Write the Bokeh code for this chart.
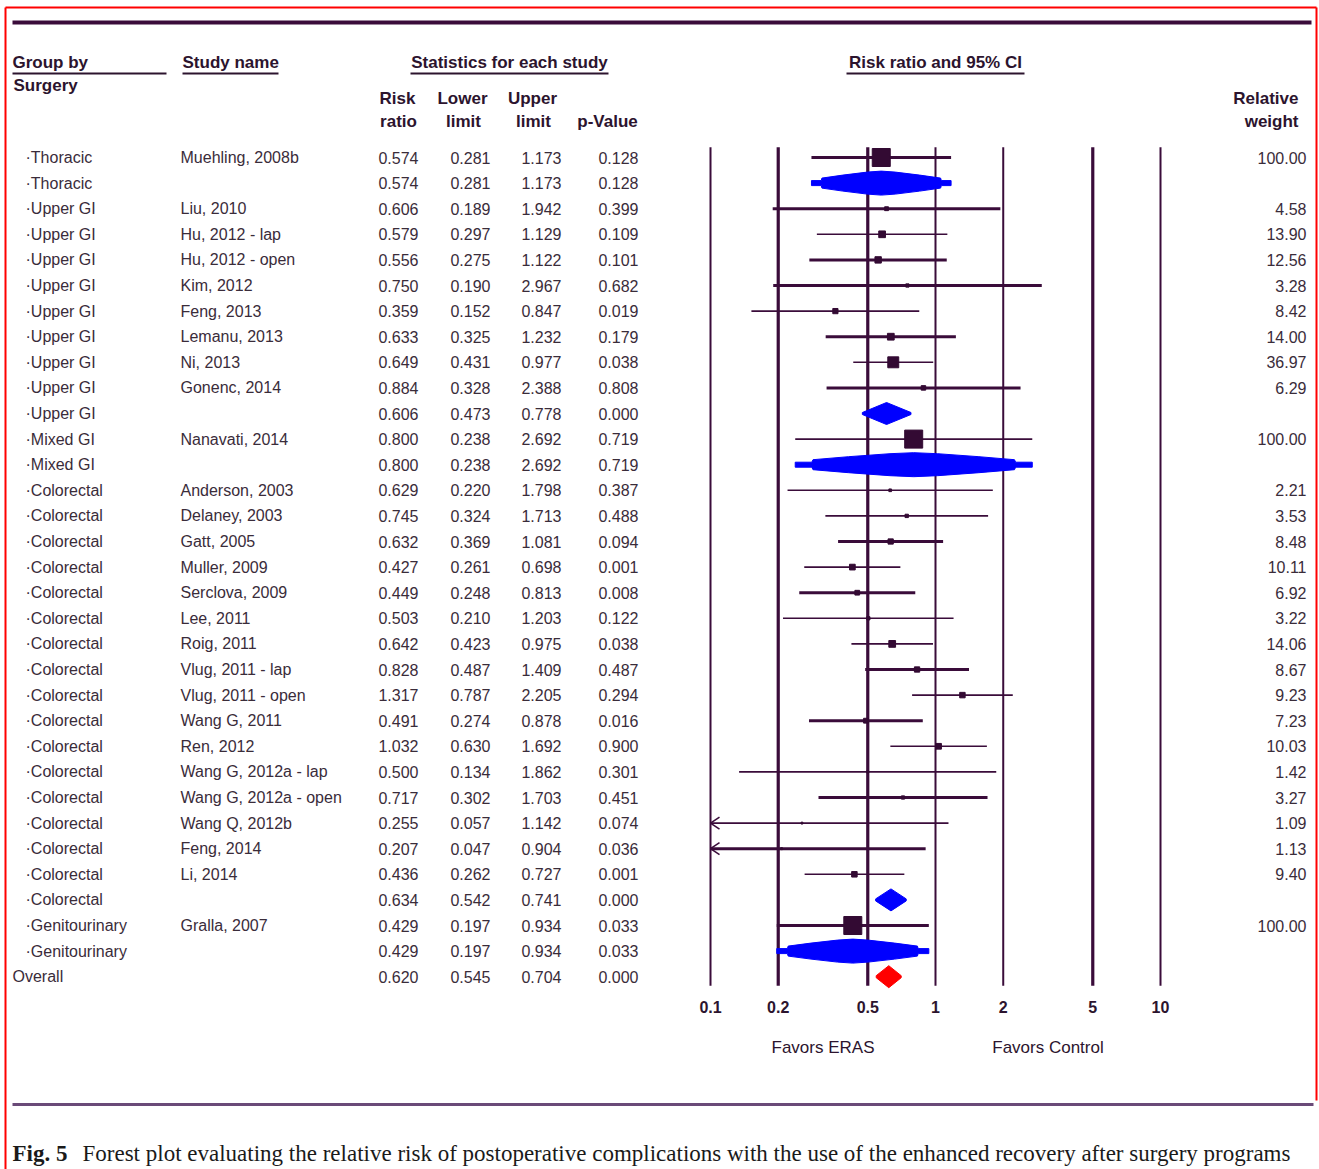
import math
from bokeh.plotting import figure
from bokeh.models import Range1d, LogScale
from bokeh.embed import file_html
from bokeh.resources import INLINE
from bokeh.core.properties import value

# ---------------- data ----------------
groups = ["Thoracic", "Thoracic",
          "Upper GI", "Upper GI", "Upper GI", "Upper GI", "Upper GI", "Upper GI", "Upper GI", "Upper GI", "Upper GI",
          "Mixed GI", "Mixed GI",
          "Colorectal", "Colorectal", "Colorectal", "Colorectal", "Colorectal", "Colorectal", "Colorectal",
          "Colorectal", "Colorectal", "Colorectal", "Colorectal", "Colorectal", "Colorectal", "Colorectal",
          "Colorectal", "Colorectal", "Colorectal",
          "Genitourinary", "Genitourinary",
          "Overall"]
studies = ["Muehling, 2008b", "",
           "Liu, 2010", "Hu, 2012 - lap", "Hu, 2012 - open", "Kim, 2012", "Feng, 2013", "Lemanu, 2013",
           "Ni, 2013", "Gonenc, 2014", "",
           "Nanavati, 2014", "",
           "Anderson, 2003", "Delaney, 2003", "Gatt, 2005", "Muller, 2009", "Serclova, 2009", "Lee, 2011",
           "Roig, 2011", "Vlug, 2011 - lap", "Vlug, 2011 - open", "Wang G, 2011", "Ren, 2012",
           "Wang G, 2012a - lap", "Wang G, 2012a - open", "Wang Q, 2012b", "Feng, 2014", "Li, 2014", "",
           "Gralla, 2007", "",
           ""]
risk_ratio = [0.574, 0.574,
              0.606, 0.579, 0.556, 0.750, 0.359, 0.633, 0.649, 0.884, 0.606,
              0.800, 0.800,
              0.629, 0.745, 0.632, 0.427, 0.449, 0.503, 0.642, 0.828, 1.317, 0.491, 1.032, 0.500, 0.717,
              0.255, 0.207, 0.436, 0.634,
              0.429, 0.429,
              0.620]
lower_limit = [0.281, 0.281,
               0.189, 0.297, 0.275, 0.190, 0.152, 0.325, 0.431, 0.328, 0.473,
               0.238, 0.238,
               0.220, 0.324, 0.369, 0.261, 0.248, 0.210, 0.423, 0.487, 0.787, 0.274, 0.630, 0.134, 0.302,
               0.057, 0.047, 0.262, 0.542,
               0.197, 0.197,
               0.545]
upper_limit = [1.173, 1.173,
               1.942, 1.129, 1.122, 2.967, 0.847, 1.232, 0.977, 2.388, 0.778,
               2.692, 2.692,
               1.798, 1.713, 1.081, 0.698, 0.813, 1.203, 0.975, 1.409, 2.205, 0.878, 1.692, 1.862, 1.703,
               1.142, 0.904, 0.727, 0.741,
               0.934, 0.934,
               0.704]
p_values = [0.128, 0.128,
            0.399, 0.109, 0.101, 0.682, 0.019, 0.179, 0.038, 0.808, 0.000,
            0.719, 0.719,
            0.387, 0.488, 0.094, 0.001, 0.008, 0.122, 0.038, 0.487, 0.294, 0.016, 0.900, 0.301, 0.451,
            0.074, 0.036, 0.001, 0.000,
            0.033, 0.033,
            0.000]
relative_weight = [100.00, None,
                   4.58, 13.90, 12.56, 3.28, 8.42, 14.00, 36.97, 6.29, None,
                   100.00, None,
                   2.21, 3.53, 8.48, 10.11, 6.92, 3.22, 14.06, 8.67, 9.23, 7.23, 10.03, 1.42, 3.27,
                   1.09, 1.13, 9.40, None,
                   100.00, None,
                   None]
tick_values = [0.1, 0.2, 0.5, 1, 2, 5, 10]
tick_labels = ["0.1", "0.2", "0.5", "1", "2", "5", "10"]

# ---------------- styles / layout ----------------
ci_line_width = [3, 0,
                 3, 1.6, 3, 3, 1.6, 3, 1.6, 3, 0,
                 1.6, 0,
                 1.6, 1.6, 3, 1.6, 3, 1.6, 1.6, 3, 1.6, 3, 1.6, 1.6, 3, 1.6, 3, 1.6, 0,
                 3, 0, 0]
grid_line_width = [2, 3.2, 3.2, 2, 2, 3.2, 2]

W, H, PAD = 1319, 1169, 0
ROW0, ROWH = 157.0, 25.6       # picture y of first row, row pitch
X1, DEC = 935.0, 225.0         # picture x of RR = 1, pixels per decade

DARK = "#3a0c3a"
TXT = "#3a2c3a"
HEAD = "#2c142e"
FONT = value("Liberation Sans")

p = figure(width=W, height=H,
           x_range=Range1d(PAD, PAD + W), y_range=Range1d(PAD + H, PAD),
           x_axis_type=None, y_axis_type=None,
           output_backend="svg", toolbar_location=None,
           min_border=0, outline_line_color=None,
           background_fill_color="white", border_fill_color="white")
p.extra_x_ranges = {"rr": Range1d(10 ** ((PAD - X1) / DEC), 10 ** ((PAD + W - X1) / DEC))}
p.extra_x_scales = {"rr": LogScale()}
p.extra_y_ranges = {"rows": Range1d((PAD + H - ROW0) / ROWH, (PAD - ROW0) / ROWH)}

n = len(groups)
rows = list(range(n))
is_study = [w is not None for w in relative_weight]
is_overall = [g == "Overall" for g in groups]
group_count = {}
for g, s in zip(groups, is_study):
    if s:
        group_count[g] = group_count.get(g, 0) + 1

# ---- frame decorations ----
p.segment(x0=[5, 5, 1316], y0=[7, 7, 7], x1=[5, 1316, 1316], y1=[H, 7, 1100],
          line_color="#ff0000", line_width=2)
p.segment(x0=[12], y0=[22], x1=[1311], y1=[22], line_color=DARK, line_width=4)
p.segment(x0=[12], y0=[1104], x1=[1313], y1=[1104], line_color="#6a4a78", line_width=3)

# ---- headers ----
hfont = dict(text_font=FONT, text_font_size="17px", text_font_style="bold", text_color=HEAD,
             text_baseline="middle")
p.text(x=[12], y=[62], text=["Group by"], text_align="left", **hfont)
p.text(x=[13], y=[85], text=["Surgery"], text_align="left", **hfont)
p.text(x=[182], y=[62], text=["Study name"], text_align="left", **hfont)
p.text(x=[509], y=[62], text=["Statistics for each study"], text_align="center", **hfont)
p.text(x=[935], y=[62], text=["Risk ratio and 95% CI"], text_align="center", **hfont)
p.segment(x0=[12, 182, 410, 846], y0=[73] * 4, x1=[166, 278, 608, 1024], y1=[73] * 4,
          line_color=HEAD, line_width=2)
p.text(x=[397, 462, 532], y=[98] * 3, text=["Risk", "Lower", "Upper"], text_align="center", **hfont)
p.text(x=[398, 463, 533, 607], y=[121] * 4, text=["ratio", "limit", "limit", "p-Value"],
       text_align="center", **hfont)
p.text(x=[1298, 1298], y=[98, 121], text=["Relative", "weight"], text_align="right", **hfont)

# ---- table text ----
tfont = dict(text_font=FONT, text_font_size="16px", text_color=TXT, text_baseline="middle",
             y_range_name="rows")
grp_text = [("Overall" if o else "\u00b7" + g) for g, o in zip(groups, is_overall)]
grp_x = [12 if o else 25 for o in is_overall]
p.text(x=grp_x, y=rows, text=grp_text, text_align="left", **tfont)
p.text(x=[180] * n, y=rows, text=studies, text_align="left", **tfont)
for col_x, vals in zip([418, 490, 561, 638], [risk_ratio, lower_limit, upper_limit, p_values]):
    p.text(x=[col_x] * n, y=rows, text=["%.3f" % v for v in vals], text_align="right", **tfont)
w_rows = [r for r in rows if is_study[r]]
p.text(x=[1306] * len(w_rows), y=w_rows, text=["%.2f" % relative_weight[r] for r in w_rows],
       text_align="right", **tfont)

# ---- reference lines of the log axis ----
p.segment(x0=tick_values, y0=[-0.4] * len(tick_values), x1=tick_values, y1=[32.35] * len(tick_values),
          line_color=DARK, line_width=grid_line_width, x_range_name="rr", y_range_name="rows")
p.text(x=tick_values, y=[1006] * len(tick_values), text=tick_labels, text_align="center",
       text_baseline="middle", text_font=FONT, text_font_size="16px", text_font_style="bold",
       text_color=HEAD, x_range_name="rr")
p.text(x=[10 ** -0.5, 10 ** 0.5], y=[1047, 1047], text=["Favors ERAS", "Favors Control"],
       text_align="center", text_baseline="middle", text_font=FONT, text_font_size="17px",
       text_color=HEAD, x_range_name="rr")

# ---- study CIs and squares ----
axis_min = tick_values[0]
s_rows = [r for r in rows if is_study[r]]
lo_draw = [max(lower_limit[r], axis_min) for r in s_rows]
p.segment(x0=lo_draw, y0=s_rows, x1=[upper_limit[r] for r in s_rows], y1=s_rows,
          line_color=DARK, line_width=[ci_line_width[r] for r in s_rows],
          x_range_name="rr", y_range_name="rows")
clip_rows = [r for r in s_rows if lower_limit[r] < axis_min]
head_dx = 10 ** (9 / DEC)
head_dy = 6 / ROWH
for r in clip_rows:
    p.segment(x0=[axis_min, axis_min], y0=[r, r], x1=[axis_min * head_dx] * 2, y1=[r - head_dy, r + head_dy],
              line_color=DARK, line_width=1.6, x_range_name="rr", y_range_name="rows")
p.scatter(x=[risk_ratio[r] for r in s_rows], y=s_rows,
          size=[18 * math.sqrt(relative_weight[r] / 100.0) for r in s_rows],
          marker="square", fill_color="#330a33", line_color="#330a33",
          x_range_name="rr", y_range_name="rows")

# ---- summary diamonds ----
def diamond(r, fat):
    lo, mid, hi = (math.log10(v) for v in (lower_limit[r], risk_ratio[r], upper_limit[r]))
    if fat:
        fr = [0.0, 0.14, 0.15, 0.45, 0.8, 1.0]
        hh = [2.5, 2.5, 5.0, 8.0, 11.0, 12.0]
    else:
        fr = [0.0, 1.0]
        hh = [1.0, 11.0]
    left = [(lo + f * (mid - lo), h) for f, h in zip(fr, hh)]
    right = [(hi - f * (hi - mid), h) for f, h in zip(fr, hh)][::-1][1:]
    top = left + right
    xs = [10 ** a for a, _ in top] + [10 ** a for a, _ in top[::-1]]
    ys = [r - h / ROWH for _, h in top] + [r + h / ROWH for _, h in top[::-1]]
    return xs, ys

sum_rows = [r for r in rows if not is_study[r] and not is_overall[r]]
xs, ys = [], []
for r in sum_rows:
    a, b = diamond(r, group_count.get(groups[r], 0) == 1)
    xs.append(a)
    ys.append(b)
p.patches(xs=xs, ys=ys, fill_color="#0000ff", line_color="#0000ff", line_width=1,
          x_range_name="rr", y_range_name="rows")
o_rows = [r for r in rows if is_overall[r]]
oxs, oys = [], []
for r in o_rows:
    a, b = diamond(r, False)
    oxs.append(a)
    oys.append(b)
p.patches(xs=oxs, ys=oys, fill_color="#ff0000", line_color="#ff0000", line_width=1,
          x_range_name="rr", y_range_name="rows")

# ---- caption ----
p.text(x=[12], y=[1153], text=["Fig. 5"], text_align="left", text_baseline="middle",
       text_font=value("Liberation Serif"), text_font_size="23px", text_font_style="bold",
       text_color="#1a1a1a")
p.text(x=[82], y=[1153],
       text=["Forest plot evaluating the relative risk of postoperative complications with the use of the enhanced recovery after surgery programs"],
       text_align="left", text_baseline="middle",
       text_font=value("Liberation Serif"), text_font_size="23px", text_color="#1a1a1a")

open("out.html", "w").write(file_html(p, INLINE))
